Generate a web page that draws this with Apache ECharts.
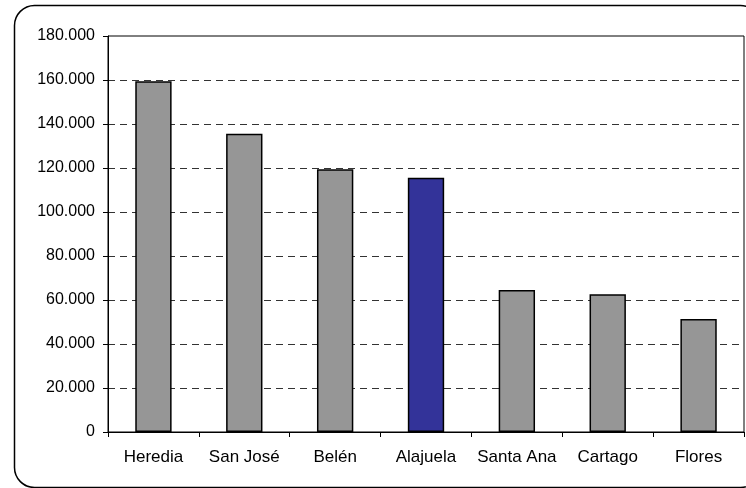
<!DOCTYPE html>
<html>
<head>
<meta charset="utf-8">
<script src="https://cdn.jsdelivr.net/npm/echarts@6/dist/echarts.min.js"></script>
<style>
  html, body { margin: 0; padding: 0; background: #fff; }
  #chart { width: 746px; height: 488px; }
</style>
</head>
<body>
<div id="chart"></div>
<script>
// Cantons and their values
const categories = ['Heredia', 'San José', 'Belén', 'Alajuela', 'Santa Ana', 'Cartago', 'Flores'];
const values = [159400, 135600, 119400, 115600, 64500, 62600, 51400];
const highlighted = 'Alajuela';

// Y axis range
const yMin = 0;
const yMax = 180000;
const yStep = 20000;

const GRAY = '#969696';
const BLUE = '#333399';
const FONT = 'Liberation Sans';

// Thousands separated with dots: 180000 -> 180.000
function fmt(v) {
  return String(v).replace(/\B(?=(\d{3})+(?!\d))/g, '.');
}

const barData = categories.map((c, i) => ({
  value: values[i],
  itemStyle: { color: c === highlighted ? BLUE : GRAY }
}));

const chart = echarts.init(document.getElementById('chart'), null, { renderer: 'canvas' });
chart.setOption({
  animation: false,
  backgroundColor: '#fff',
  graphic: [{
    type: 'rect',
    left: 12, top: 3,
    shape: { x: 0, y: 0, width: 746, height: 482, r: 20 },
    style: { fill: 'none', stroke: '#000', lineWidth: 1.5 },
    z: 100, silent: true
  }],
  grid: {
    left: 108, top: 36, right: 2, bottom: 56,
    show: true, borderColor: '#000', borderWidth: 1, backgroundColor: '#fff'
  },
  xAxis: {
    type: 'category',
    data: categories,
    boundaryGap: true,
    axisLine: { lineStyle: { color: '#000', width: 1 } },
    axisTick: { show: true, length: 5, inside: false, interval: 0, lineStyle: { color: '#000' } },
    axisLabel: { color: '#000', fontFamily: FONT, fontSize: 17, margin: 17, interval: 0, hideOverlap: false },
    splitLine: { show: false }
  },
  yAxis: {
    type: 'value',
    min: yMin, max: yMax, interval: yStep,
    axisLine: { show: true, lineStyle: { color: '#000', width: 1 } },
    axisTick: { show: true, length: 5, inside: false, lineStyle: { color: '#000' } },
    axisLabel: { color: '#000', fontFamily: FONT, fontSize: 16, margin: 13, formatter: fmt },
    splitLine: {
      show: true, showMinLine: false, showMaxLine: false,
      lineStyle: { color: '#333', type: [7, 5], width: 1 }
    }
  },
  series: [{
    type: 'bar',
    data: barData,
    barWidth: '40%',
    itemStyle: { borderColor: '#000', borderWidth: 1.5 }
  }]
});
</script>
</body>
</html>
